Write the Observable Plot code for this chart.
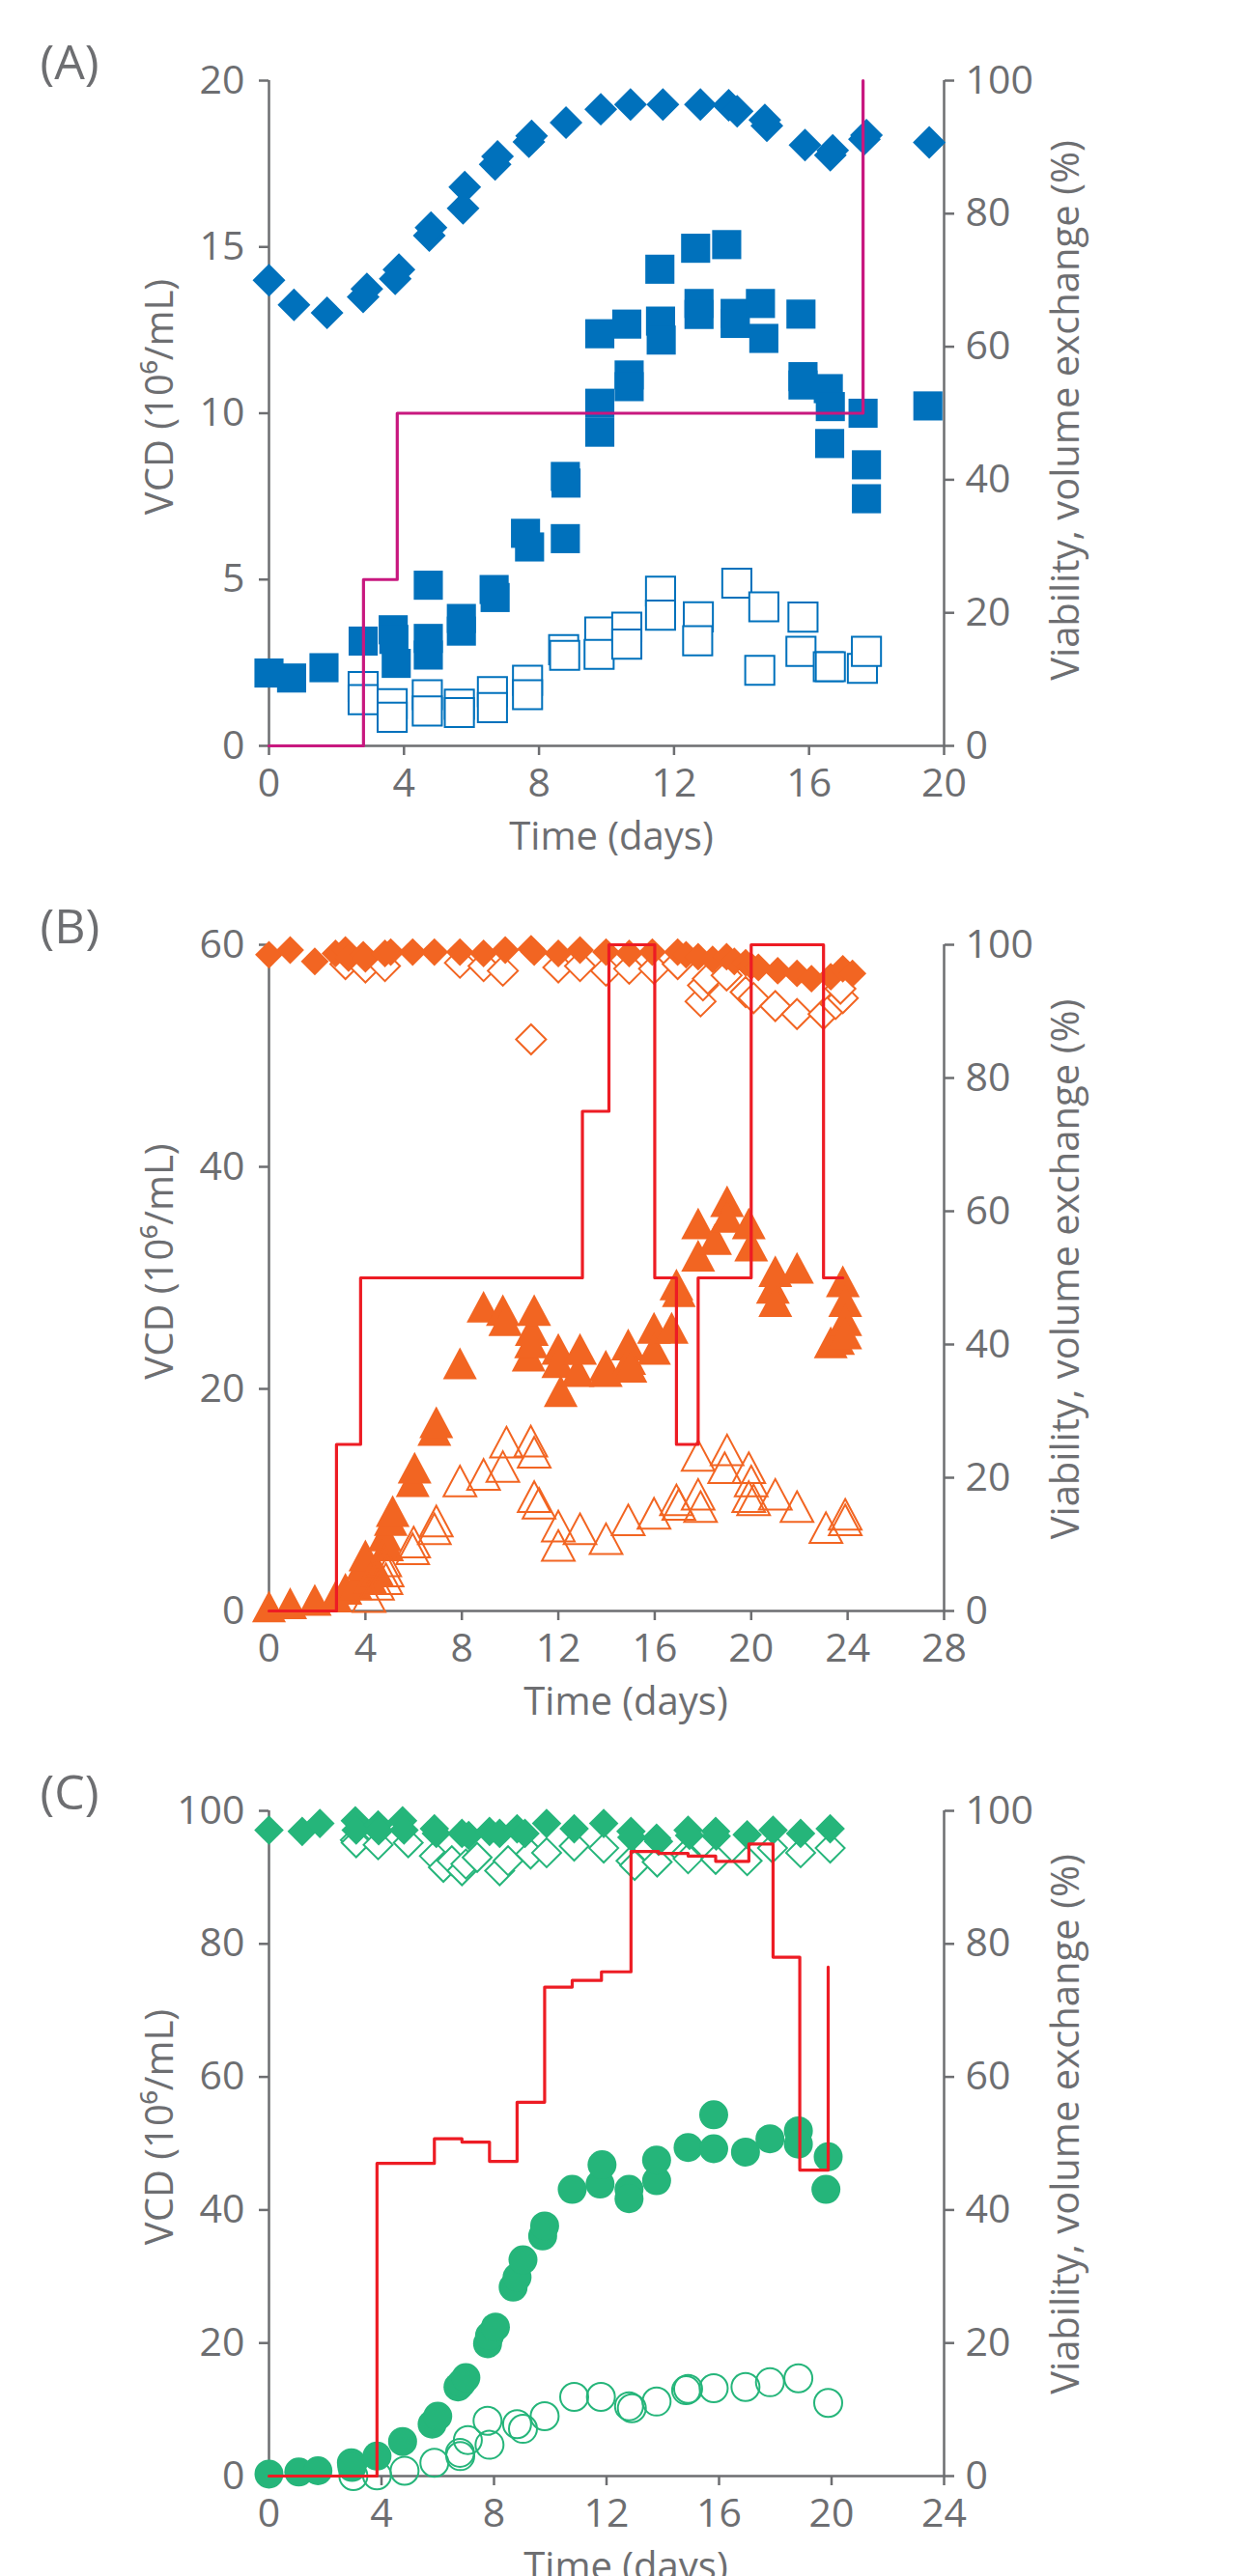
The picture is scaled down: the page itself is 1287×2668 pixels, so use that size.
<!DOCTYPE html>
<html>
<head>
<meta charset="utf-8">
<script src="https://cdn.jsdelivr.net/npm/d3@7"></script>
<script src="https://cdn.jsdelivr.net/npm/@observablehq/plot@0.6"></script>
<style>
  html, body { margin: 0; padding: 0; background: #fff; }
  body { width: 1287px; height: 2668px; overflow: hidden; position: relative; font-family: "Open Sans", sans-serif; }
  .panel { position: absolute; left: 0; width: 1287px; }
</style>
</head>
<body>
<div id="pA" class="panel" style="top:0px"></div>
<div id="pB" class="panel" style="top:895px"></div>
<div id="pC" class="panel" style="top:1792px"></div>
<script>
// ---------------- Panel A ----------------
const aViabDay = [0, 0.74, 1.72, 2.79, 2.9, 3.74, 3.85, 4.75, 4.8, 5.75, 5.8, 6.7, 6.77, 7.7, 7.78, 8.8, 9.83, 10.71, 11.67, 12.78, 13.62, 13.87, 14.69, 14.75, 15.88, 16.63, 16.7, 17.64, 17.7, 19.56];
const aViab = [70.0, 66.3, 65.1, 67.5, 68.7, 70.2, 71.6, 76.7, 77.9, 80.8, 84.0, 87.4, 88.6, 90.8, 91.7, 93.7, 95.7, 96.4, 96.4, 96.4, 96.3, 95.4, 94.1, 93.2, 90.3, 88.8, 89.5, 91.2, 91.8, 90.7];
const aVcdDay = [0, 0.67, 1.63, 2.79, 3.68, 3.7, 3.77, 4.72, 4.72, 4.72, 5.7, 5.7, 6.67, 6.7, 7.6, 7.72, 8.78, 8.78, 8.8, 9.8, 9.8, 9.8, 10.6, 10.67, 10.67, 11.58, 11.6, 11.62, 12.64, 12.74, 12.74, 13.56, 13.81, 13.81, 14.56, 14.66, 15.76, 15.82, 15.82, 16.57, 16.63, 16.61, 17.6, 17.7, 17.7, 19.52];
const aVcd = [2.19, 2.04, 2.35, 3.15, 3.49, 3.2, 2.48, 4.83, 3.23, 2.73, 3.83, 3.45, 4.7, 4.46, 6.39, 5.98, 6.23, 8.1, 7.9, 9.43, 10.3, 12.39, 12.68, 11.15, 10.8, 14.33, 12.77, 12.2, 14.96, 13.3, 12.97, 15.07, 13.0, 12.7, 13.3, 12.25, 12.98, 11.1, 10.85, 10.74, 10.2, 9.09, 10.0, 8.45, 7.43, 10.22];
const aOpenDay = [2.79, 2.79, 3.65, 3.65, 4.69, 4.69, 5.64, 5.64, 6.62, 6.62, 7.66, 7.66, 8.73, 8.76, 9.8, 9.78, 10.6, 10.6, 11.6, 11.6, 12.72, 12.7, 13.86, 14.66, 14.54, 15.82, 15.76, 16.57, 16.63, 17.58, 17.7];
const aOpen = [1.78, 1.39, 1.27, 0.86, 1.54, 1.05, 1.25, 1.0, 1.63, 1.15, 1.97, 1.54, 2.89, 2.72, 3.42, 2.75, 3.57, 3.06, 4.65, 3.93, 3.88, 3.16, 4.89, 4.18, 2.27, 3.87, 2.84, 2.38, 2.38, 2.33, 2.84];
const aStepDay = [0, 2.8, 3.8, 17.6];
const aStep = [0, 25, 50, 100];

// ---------------- Panel B ----------------
const bViabDay = [0, 0.88, 1.9, 2.76, 3.17, 3.3, 3.91, 4.0, 4.81, 5.05, 5.96, 6.86, 7.92, 8.9, 9.8, 10.87, 11.0, 12.0, 12.9, 13.98, 14.94, 15.9, 16.95, 17.3, 17.8, 18.4, 18.98, 19.3, 19.77, 20.0, 20.3, 21.1, 21.9, 22.5, 23.3, 23.8, 24.2];
const bViab = [98.5, 99.2, 97.5, 98.7, 99.2, 98.0, 98.5, 97.9, 98.7, 98.9, 98.9, 98.9, 98.9, 98.7, 99.2, 99.4, 98.9, 98.7, 99.2, 98.9, 98.7, 98.9, 98.9, 98.5, 98.2, 97.8, 98.2, 97.5, 97.3, 96.8, 96.6, 96.1, 95.7, 94.9, 95.2, 96.4, 95.7];
const bOpenVDay = [3.17, 4.0, 4.81, 7.92, 8.9, 9.7, 10.87, 12.0, 12.9, 13.98, 14.94, 15.97, 16.95, 17.9, 18.0, 18.2, 18.98, 19.77, 20.1, 21.0, 21.9, 23.0, 23.5, 23.8, 23.7];
const bOpenV = [97.1, 96.6, 96.8, 97.3, 96.8, 96.1, 85.8, 96.6, 96.8, 96.1, 96.4, 96.4, 97.1, 91.5, 93.9, 94.9, 95.4, 92.9, 92.0, 90.8, 89.6, 89.6, 91.1, 92.0, 93.4];
const bVcdDay = [0, 0.88, 1.9, 2.76, 3.17, 3.6, 3.9, 4.0, 4.2, 4.5, 4.8, 4.9, 5.05, 5.13, 5.96, 6.04, 6.86, 6.94, 7.92, 8.9, 9.7, 9.8, 10.77, 10.87, 10.9, 11.0, 12.0, 12.0, 12.1, 12.8, 12.9, 13.97, 13.97, 14.9, 14.94, 14.99, 15.97, 15.97, 16.7, 16.9, 17.0, 17.8, 17.8, 18.5, 19.0, 19.0, 19.9, 20.0, 20.9, 21.0, 21.0, 21.9, 23.3, 23.6, 23.8, 23.9, 23.9, 23.9];
const bVcd = [0.4, 0.7, 1.0, 1.3, 2.0, 2.4, 4.2, 5.0, 3.0, 3.6, 6.8, 5.9, 8.2, 9.0, 11.7, 12.9, 16.3, 17.0, 22.3, 27.4, 27.1, 26.2, 23.0, 24.2, 25.3, 27.1, 23.6, 22.4, 19.8, 21.6, 23.6, 22.1, 21.6, 24.0, 22.7, 22.0, 25.5, 23.6, 25.5, 29.4, 28.8, 34.9, 32.0, 33.5, 36.9, 35.5, 34.9, 32.9, 29.1, 30.6, 27.9, 30.9, 24.2, 24.5, 29.7, 27.9, 26.2, 25.0];
const bOpenDay = [4.15, 4.5, 4.8, 4.85, 4.9, 5.96, 6.0, 6.86, 6.94, 7.92, 8.9, 9.7, 9.85, 10.86, 11.0, 11.0, 11.2, 12.0, 12.0, 12.9, 13.98, 14.9, 15.97, 16.9, 17.0, 17.8, 17.8, 17.9, 18.9, 19.0, 19.9, 19.9, 20.0, 20.1, 21.0, 21.9, 23.1, 23.9, 23.9];
const bOpen = [1.3, 2.4, 4.5, 2.9, 3.6, 5.6, 6.2, 7.4, 8.1, 11.7, 12.3, 13.0, 15.2, 15.3, 14.3, 10.3, 9.7, 7.65, 5.9, 7.4, 6.5, 8.2, 8.8, 10.0, 9.6, 14.0, 10.5, 9.4, 12.9, 14.5, 12.9, 10.3, 11.7, 10.0, 10.5, 9.4, 7.5, 8.7, 8.2];
const bStepDay = [0, 2.8, 3.8, 13.0, 14.1, 16.0, 16.9, 17.8, 20.0, 23.0, 23.8];
const bStep = [0, 25, 50, 75, 100, 50, 25, 50, 100, 50, 50];

// ---------------- Panel C ----------------
const cViabDay = [0, 1.18, 1.81, 3.07, 3.1, 3.88, 3.9, 4.75, 4.8, 5.88, 5.95, 6.86, 7.1, 7.84, 8.2, 8.82, 9.1, 9.87, 10.85, 11.9, 12.87, 12.9, 13.78, 13.85, 14.9, 14.95, 15.88, 15.9, 17.0, 17.92, 18.9, 19.95];
const cViab = [97.1, 96.9, 98.1, 98.5, 97.1, 97.9, 97.0, 98.5, 97.1, 97.3, 96.6, 96.6, 96.3, 96.9, 96.6, 97.3, 96.6, 98.1, 97.3, 98.1, 96.9, 96.0, 95.9, 95.4, 97.1, 96.3, 96.9, 96.2, 96.4, 97.1, 96.6, 97.3];
const cOpenVDay = [3.07, 3.1, 3.88, 4.95, 5.88, 6.2, 6.5, 6.86, 7.0, 7.4, 8.2, 8.5, 9.3, 9.87, 10.85, 11.9, 12.87, 13.0, 13.8, 14.8, 14.9, 15.88, 17.0, 17.9, 18.9, 19.95];
const cOpenV = [95.6, 95.2, 94.9, 95.2, 93.2, 91.5, 92.5, 91.0, 92.0, 93.0, 91.0, 92.5, 93.5, 93.7, 94.7, 94.4, 92.5, 91.8, 92.3, 93.5, 92.8, 92.7, 92.5, 94.4, 93.7, 94.4];
const cVcdDay = [0, 1.06, 1.74, 2.93, 2.95, 3.84, 4.75, 5.8, 6.0, 6.72, 6.85, 7.0, 7.77, 7.84, 8.05, 8.68, 8.82, 9.03, 9.73, 9.8, 10.78, 11.77, 11.84, 12.8, 12.8, 13.78, 13.78, 14.9, 15.81, 15.81, 16.94, 17.81, 18.82, 18.82, 19.88, 19.8];
const cVcd = [0.3, 0.6, 0.8, 2.0, 1.3, 3.0, 5.2, 7.8, 9.0, 13.4, 14.0, 14.8, 19.9, 21.1, 22.4, 28.4, 29.9, 32.5, 36.1, 37.6, 43.1, 43.9, 46.8, 43.1, 41.7, 44.4, 47.5, 49.4, 54.3, 49.2, 48.7, 50.7, 51.9, 49.9, 48.0, 43.1];
const cOpenDay = [3.0, 3.84, 4.82, 5.88, 6.79, 6.8, 7.07, 7.84, 7.77, 8.82, 9.03, 9.8, 10.85, 11.8, 12.8, 12.9, 13.78, 14.83, 14.9, 15.81, 16.94, 17.81, 18.82, 19.88];
const cOpen = [0.0, 0.1, 0.8, 2.0, 3.5, 3.0, 5.4, 4.7, 8.3, 7.8, 7.1, 9.0, 11.9, 11.9, 10.5, 10.2, 11.2, 12.9, 13.1, 13.2, 13.4, 14.1, 14.7, 11.0];
const cStepDay = [0, 3.84, 5.88, 6.86, 7.84, 8.82, 9.8, 10.78, 11.82, 12.87, 13.85, 14.9, 15.88, 17.06, 17.92, 18.87, 19.88];
const cStep = [0, 47, 50.7, 50.2, 47.3, 56.2, 73.5, 74.5, 75.8, 93.9, 93.6, 93.2, 92.4, 95, 78, 46, 76.5];

// ---------------- styling ----------------
const gray = "#6d6e71";
const blue = "#0071bc", magenta = "#c8187f";
const orange = "#f26522", red = "#ed1c24";
const green = "#25b57a";
const FONT = "'Open Sans', sans-serif";

function pts(xs, ys, k = 1) { return xs.map((x, i) => ({x, y: ys[i] * k})); }

// triangle centered on its bounding box (slightly taller than equilateral)
const tri = {
  draw(context, size) {
    const a = Math.sqrt(size / Math.PI);
    const w = 1.3 * a, h = 1.22 * a;
    context.moveTo(0, -h); context.lineTo(w, h); context.lineTo(-w, h); context.closePath();
  }
};

function panel({el, height, mb, tag, xMax, xTicks, yMax, yTicks, xLabelDx, rLabelDy, series}) {
  const k = yMax / 100;
  const rTicks = [0, 20, 40, 60, 80, 100].map(p => p * k);
  const axisStyle = {color: gray, stroke: gray, strokeWidth: 2.5, fontSize: 41, fontFamily: FONT, label: null};
  const plot = Plot.plot({
    width: 1287, height, marginLeft: 278, marginRight: 310, marginTop: 83, marginBottom: mb,
    style: {fontFamily: FONT, color: gray, background: "transparent", overflow: "visible"},
    x: {domain: [0, xMax]},
    y: {domain: [0, yMax]},
    marks: [
      Plot.ruleY([0], {stroke: gray, strokeWidth: 2.5}),
      Plot.ruleX([0], {stroke: gray, strokeWidth: 2.5}),
      Plot.ruleX([xMax], {stroke: gray, strokeWidth: 2.5}),
      Plot.axisX(xTicks, {...axisStyle, anchor: "bottom", tickSize: 10, tickPadding: 13}),
      Plot.axisY(yTicks, {...axisStyle, anchor: "left", tickSize: 10, tickPadding: 15}),
      Plot.axisY(rTicks, {...axisStyle, anchor: "right", tickSize: 10, tickPadding: 12, tickFormat: d => Math.round(d / k)}),
      ...series(k),
      Plot.text([tag], {frameAnchor: "top-left", dx: -237, dy: -18, textAnchor: "start", lineAnchor: "middle", fontSize: 50, fill: gray, fontFamily: FONT}),
      Plot.text(["VCD (10\u2076/mL)"], {frameAnchor: "left", dx: -112, dy: -17, rotate: -90, textAnchor: "middle", lineAnchor: "middle", fontSize: 40, fill: gray, fontFamily: FONT}),
      Plot.text(["Viability, volume exchange (%)"], {frameAnchor: "right", dx: 127, dy: rLabelDy, rotate: -90, textAnchor: "middle", lineAnchor: "middle", fontSize: 40, fill: gray, fontFamily: FONT}),
      Plot.text(["Time (days)"], {frameAnchor: "bottom", dx: xLabelDx, dy: 79, textAnchor: "middle", lineAnchor: "top", fontSize: 40, fill: gray, fontFamily: FONT})
    ]
  });
  document.getElementById(el).appendChild(plot);
}

panel({
  el: "pA", height: 895, mb: 123, tag: "(A)", xMax: 20, xTicks: [0, 4, 8, 12, 16, 20],
  yMax: 20, yTicks: [0, 5, 10, 15, 20], xLabelDx: 5, rLabelDy: -3,
  series: k => [
    Plot.dot(pts(aOpenDay, aOpen), {x: "x", y: "y", symbol: "square", r: 17, fill: "white", stroke: blue, strokeWidth: 2}),
    Plot.dot(pts(aVcdDay, aVcd), {x: "x", y: "y", symbol: "square", r: 17, fill: blue, stroke: "none"}),
    Plot.dot(pts(aViabDay, aViab, k), {x: "x", y: "y", symbol: "diamond2", r: 15.3, fill: blue, stroke: "none"}),
    Plot.line(pts(aStepDay, aStep, k), {x: "x", y: "y", curve: "step-after", stroke: magenta, strokeWidth: 3.2})
  ]
});

panel({
  el: "pB", height: 897, mb: 124, tag: "(B)", xMax: 28, xTicks: [0, 4, 8, 12, 16, 20, 24, 28],
  yMax: 60, yTicks: [0, 20, 40, 60], xLabelDx: 20, rLabelDy: -9,
  series: k => [
    Plot.dot(pts(bOpenVDay, bOpenV, k), {x: "x", y: "y", symbol: "diamond2", r: 14, fill: "white", stroke: orange, strokeWidth: 2}),
    Plot.dot(pts(bViabDay, bViab, k), {x: "x", y: "y", symbol: "diamond2", r: 13, fill: orange, stroke: "none"}),
    Plot.dot(pts(bVcdDay, bVcd), {x: "x", y: "y", symbol: tri, r: 13.5, fill: orange, stroke: "none"}),
    Plot.dot(pts(bOpenDay, bOpen), {x: "x", y: "y", symbol: tri, r: 13, fill: "none", stroke: orange, strokeWidth: 2}),
    Plot.line(pts(bStepDay, bStep, k), {x: "x", y: "y", curve: "step-after", stroke: red, strokeWidth: 3.2})
  ]
});

panel({
  el: "pC", height: 876, mb: 104, tag: "(C)", xMax: 24, xTicks: [0, 4, 8, 12, 16, 20, 24],
  yMax: 100, yTicks: [0, 20, 40, 60, 80, 100], xLabelDx: 20, rLabelDy: -20,
  series: k => [
    Plot.dot(pts(cOpenVDay, cOpenV, k), {x: "x", y: "y", symbol: "diamond2", r: 13.5, fill: "white", stroke: green, strokeWidth: 2}),
    Plot.dot(pts(cViabDay, cViab, k), {x: "x", y: "y", symbol: "diamond2", r: 13.8, fill: green, stroke: "none"}),
    Plot.dot(pts(cOpenDay, cOpen), {x: "x", y: "y", r: 14.5, fill: "none", stroke: green, strokeWidth: 2}),
    Plot.dot(pts(cVcdDay, cVcd), {x: "x", y: "y", r: 15, fill: green, stroke: "none"}),
    Plot.line(pts(cStepDay, cStep, k), {x: "x", y: "y", curve: "step-after", stroke: red, strokeWidth: 3.2})
  ]
});
</script>
</body>
</html>
